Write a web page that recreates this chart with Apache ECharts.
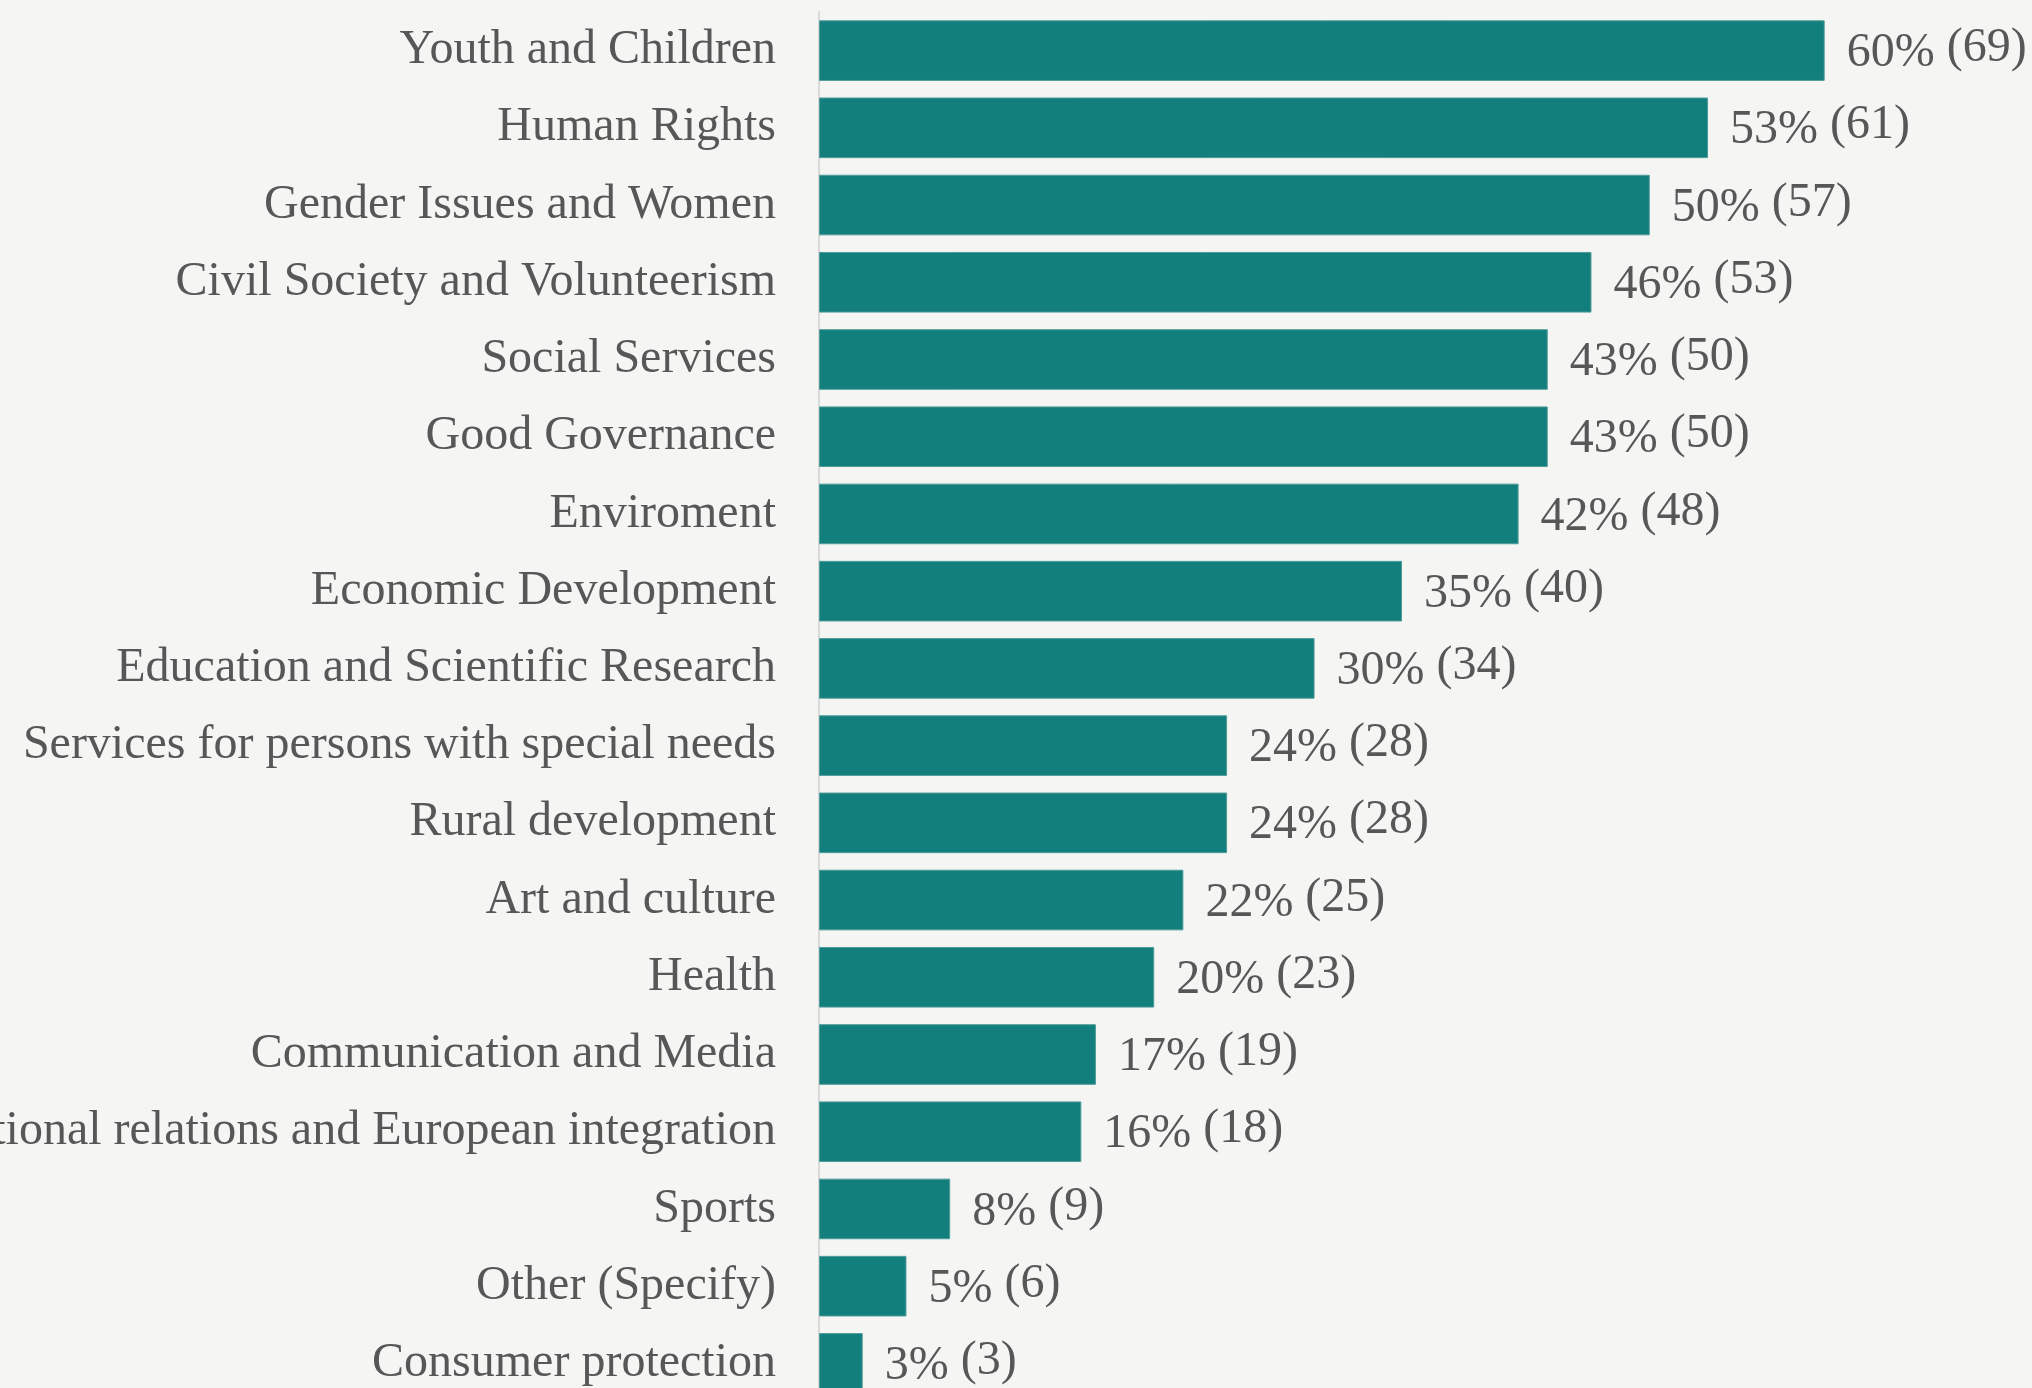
<!DOCTYPE html>
<html>
<head>
<meta charset="utf-8">
<script src="https://cdn.jsdelivr.net/npm/echarts@6/dist/echarts.min.js"></script>
<style>
html,body{margin:0;padding:0;background:#f5f6f4;}
#chart{width:2032px;height:1388px;}
</style>
</head>
<body>
<div id="chart"></div>
<script>
const categories = [
  "Youth and Children",
  "Human Rights",
  "Gender Issues and Women",
  "Civil Society and Volunteerism",
  "Social Services",
  "Good Governance",
  "Enviroment",
  "Economic Development",
  "Education and Scientific Research",
  "Services for persons with special needs",
  "Rural development",
  "Art and culture",
  "Health",
  "Communication and Media",
  "International relations and European integration",
  "Sports",
  "Other (Specify)",
  "Consumer protection"
];
const counts = [69, 61, 57, 53, 50, 50, 48, 40, 34, 28, 28, 25, 23, 19, 18, 9, 6, 3];
const percents = [60, 53, 50, 46, 43, 43, 42, 35, 30, 24, 24, 22, 20, 17, 16, 8, 5, 3];

const chart = echarts.init(document.getElementById('chart'), null, {renderer: 'canvas'});
const FONT = '"Liberation Serif", "Times New Roman", serif';
chart.setOption({
  backgroundColor: '#f5f6f4',
  animation: false,
  grid: {
    left: 819, right: 47, top: 12, bottom: -14,
    containLabel: false,
    outerBoundsMode: 'none'
  },
  xAxis: {
    type: 'value', min: 0, max: 80,
    show: false
  },
  yAxis: {
    type: 'category',
    data: categories,
    inverse: true,
    axisLine: {show: true, lineStyle: {color: '#d9d9d9', width: 2}},
    axisTick: {show: false},
    splitLine: {show: false},
    axisLabel: {
      interval: 0,
      margin: 43,
      color: '#575757',
      fontFamily: FONT,
      fontSize: 48
    }
  },
  series: [{
    type: 'bar',
    data: counts,
    barCategoryGap: '21.5%',
    itemStyle: {color: '#127f7c', borderColor: '#4f9c99', borderWidth: 1},
    label: {
      show: true,
      position: 'right',
      distance: 22,
      color: '#575757',
      fontFamily: FONT,
      fontSize: 48,
      formatter: p => '{p|' + percents[p.dataIndex] + '%} {c|(' + counts[p.dataIndex] + ')}',
      rich: {
        p: {fontFamily: FONT, fontSize: 48, color: '#575757', padding: [6, 0, 0, 0]},
        c: {fontFamily: FONT, fontSize: 48, color: '#575757', padding: [0, 0, 4, 0]}
      }
    }
  }]
});
</script>
</body>
</html>
